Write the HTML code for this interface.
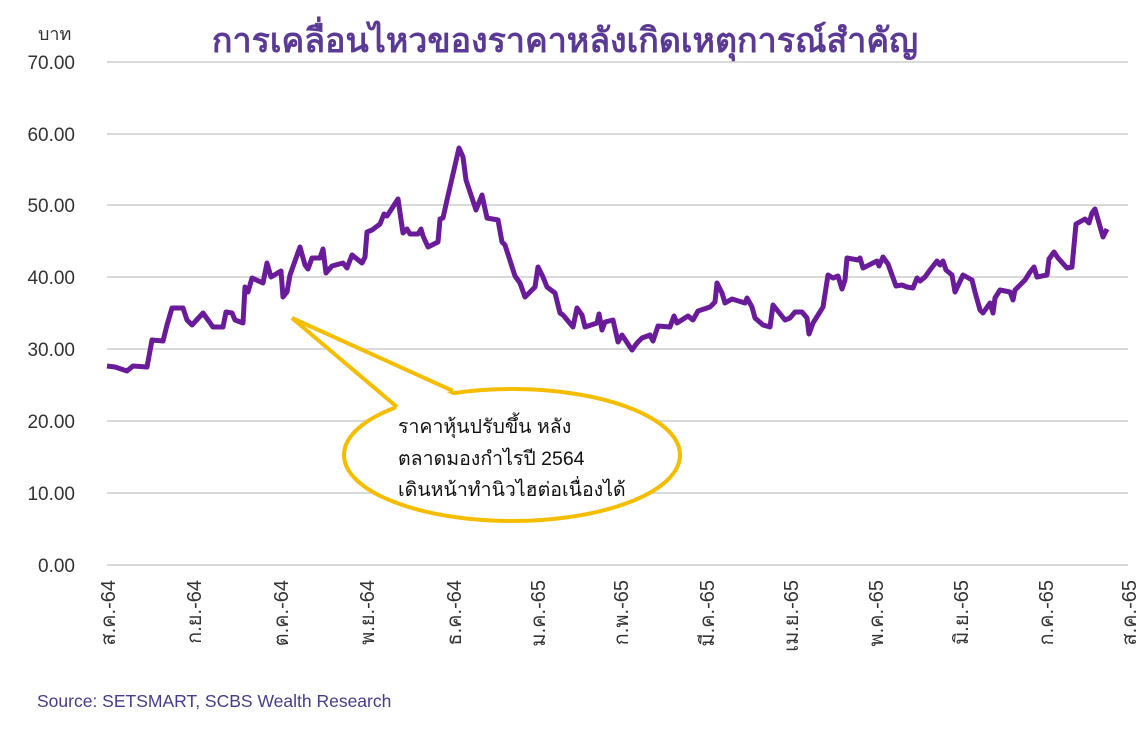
<!DOCTYPE html>
<html><head><meta charset="utf-8"><style>
body{margin:0;background:#fff;width:1144px;height:727px;overflow:hidden}
svg text{font-family:"Liberation Sans","Noto Sans CJK SC",sans-serif}
</style></head><body>
<svg width="1144" height="727" viewBox="0 0 1144 727">
<g stroke="#d9d9d9" stroke-width="2">
<line x1="107" y1="62" x2="1128" y2="62"/><line x1="107" y1="134" x2="1128" y2="134"/>
<line x1="107" y1="205" x2="1128" y2="205"/><line x1="107" y1="277" x2="1128" y2="277"/>
<line x1="107" y1="349" x2="1128" y2="349"/><line x1="107" y1="421" x2="1128" y2="421"/>
<line x1="107" y1="493" x2="1128" y2="493"/><line x1="107" y1="565" x2="1128" y2="565"/>
</g>
<g font-size="19" fill="#333" text-anchor="end">
<text x="75" y="69">70.00</text><text x="75" y="141">60.00</text><text x="75" y="212">50.00</text>
<text x="75" y="284">40.00</text><text x="75" y="356">30.00</text><text x="75" y="428">20.00</text>
<text x="75" y="500">10.00</text><text x="75" y="572">0.00</text>
</g>
<text x="38" y="40" font-size="18" fill="#333">บาท</text>
<text x="565" y="52" font-size="34" font-weight="bold" fill="#5b3a96" text-anchor="middle">การเคลื่อนไหวของราคาหลังเกิดเหตุการณ์สำคัญ</text>
<g font-size="20" fill="#333" text-anchor="end">
<text transform="translate(115,580) rotate(-90)">ส.ค.-64</text>
<text transform="translate(201,580) rotate(-90)">ก.ย.-64</text>
<text transform="translate(288,580) rotate(-90)">ต.ค.-64</text>
<text transform="translate(374,580) rotate(-90)">พ.ย.-64</text>
<text transform="translate(461,580) rotate(-90)">ธ.ค.-64</text>
<text transform="translate(545,580) rotate(-90)">ม.ค.-65</text>
<text transform="translate(628,580) rotate(-90)">ก.พ.-65</text>
<text transform="translate(714,580) rotate(-90)">มี.ค.-65</text>
<text transform="translate(798,580) rotate(-90)">เม.ย.-65</text>
<text transform="translate(883,580) rotate(-90)">พ.ค.-65</text>
<text transform="translate(968,580) rotate(-90)">มิ.ย.-65</text>
<text transform="translate(1053,580) rotate(-90)">ก.ค.-65</text>
<text transform="translate(1136,580) rotate(-90)">ส.ค.-65</text>
</g>
<polyline fill="none" stroke="#6a1b9a" stroke-width="5" stroke-linejoin="round" points="107,366 115,367 127,371 133,366 147,367 152,340 163,341 167,325 172,308 183,308 187,320 192,325 203,313 213,327 223,327 226,312 232,313 235,320 243,323 245,287 248,292 252,278 263,283 267,263 271,277 281,271 283,297 287,292 290,275 300,247 305,265 308,269 312,258 320,258 323,249 326,273 332,266 343,263 347,268 352,255 362,263 365,257 367,232 372,230 380,224 384,214 387,216 398,199 403,233 407,229 410,234 418,234 421,229 423,236 428,247 438,242 440,219 443,218 447,200 459,148 463,157 466,180 476,210 482,195 487,218 498,220 502,242 505,245 515,276 520,283 525,297 535,287 538,267 543,277 547,287 555,293 560,313 563,315 573,327 577,308 582,315 585,327 597,323 599,314 602,330 605,322 613,320 618,342 622,335 632,350 637,343 642,338 650,335 653,341 658,326 670,327 674,316 677,323 688,316 693,320 698,311 710,307 715,302 717,283 722,293 725,303 732,299 745,303 747,298 752,307 755,318 763,325 770,327 773,305 785,320 790,318 795,312 802,312 807,318 809,334 813,323 823,307 828,275 833,278 838,276 842,289 845,280 847,258 858,260 860,258 863,268 877,261 879,266 883,257 888,264 896,286 902,285 907,287 913,288 917,278 920,281 925,277 930,270 937,261 940,265 943,261 946,270 952,275 955,292 963,275 972,280 975,292 980,310 983,313 990,303 993,313 995,298 1000,290 1010,292 1013,300 1015,290 1025,280 1030,272 1034,267 1037,277 1047,275 1049,259 1054,252 1058,258 1067,268 1072,267 1076,224 1085,219 1089,223 1092,213 1095,209 1103,237 1107,229"/>
<ellipse cx="512" cy="455" rx="168" ry="66" fill="#fff" stroke="#f5bd00" stroke-width="4"/>
<polygon points="292,318 398,410 455,396" fill="#fff"/>
<line x1="292" y1="318" x2="397" y2="407" stroke="#f5bd00" stroke-width="4"/>
<line x1="292" y1="318" x2="453" y2="391" stroke="#f5bd00" stroke-width="4"/>
<g font-size="19.5" fill="#111">
<text x="398" y="433">ราคาหุ้นปรับขึ้น หลัง</text>
<text x="398" y="465">ตลาดมองกำไรปี 2564</text>
<text x="398" y="496">เดินหน้าทำนิวไฮต่อเนื่องได้</text>
</g>
<text x="37" y="707" font-size="17.5" fill="#4a3a8c">Source: SETSMART, SCBS Wealth Research</text>
</svg>
</body></html>
